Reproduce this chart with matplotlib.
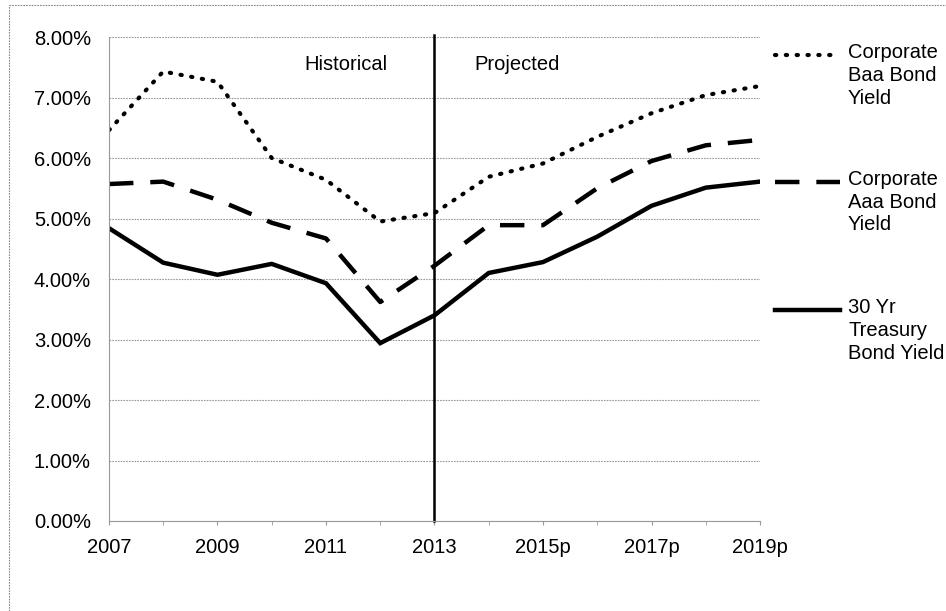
import matplotlib.pyplot as plt
from matplotlib.lines import Line2D
from matplotlib.ticker import FuncFormatter

plt.rcParams['font.family'] = ['Liberation Sans', 'DejaVu Sans']

# Yields (%) by year, 2007-2019 (2014 onward projected)
years = list(range(2007, 2020))
tick_labels = ["2007", "2009", "2011", "2013", "2015p", "2017p", "2019p"]
baa = [6.46, 7.43, 7.26, 6.00, 5.64, 4.95, 5.09, 5.69, 5.91, 6.35, 6.74, 7.04, 7.19]
aaa = [5.57, 5.61, 5.31, 4.93, 4.67, 3.62, 4.22, 4.89, 4.89, 5.50, 5.95, 6.21, 6.30]
treasury = [4.84, 4.27, 4.07, 4.25, 3.93, 2.94, 3.40, 4.10, 4.28, 4.70, 5.21, 5.51, 5.61]
split_year = 2013

fig = plt.figure(figsize=(9.46, 6.11), dpi=100)
ax = fig.add_axes([0.1152, 0.1473, 0.6882, 0.7921])

dot_style = dict(color="black", lw=3.0, linestyle=(0, (0.3, 2.3)), dash_capstyle="round")
dash_style = dict(color="black", lw=3.2, linestyle=(0, (5.5, 3.8)))
solid_style = dict(color="black", lw=3.2, solid_joinstyle="miter")

ax.plot(years, baa, **dot_style)
ax.plot(years, aaa, **dash_style)
ax.plot(years, treasury, **solid_style)

ax.axvline(split_year, color="black", lw=1.8, ymin=0, ymax=1.005, clip_on=False)

ax.set_xlim(2007, 2019)
ax.set_ylim(0, 8)
ax.set_yticks(range(0, 9))
ax.yaxis.set_major_formatter(FuncFormatter(lambda v, p: f"{v:.2f}%"))
ax.set_xticks(years[::2])
ax.set_xticklabels(tick_labels)
ax.set_xticks(years, minor=True)

ax.grid(axis="y", color="#999999", lw=0.8, linestyle=(0, (1.5, 1.0)))
for side in ["top", "right"]:
    ax.spines[side].set_visible(False)
for side in ["left", "bottom"]:
    ax.spines[side].set_color("#999999")
    ax.spines[side].set_linestyle((0, (1.5, 1.0)))
    ax.spines[side].set_linewidth(0.8)

ax.tick_params(axis="y", length=0, labelsize=14.5, pad=13)
ax.tick_params(axis="x", which="both", length=3, color="#999999", labelsize=14.5, pad=9)

ax.text(2011.37, 7.54, "Historical", ha="center", va="center", fontsize=14.5)
ax.text(2014.52, 7.54, "Projected", ha="center", va="center", fontsize=14.5)

# legend drawn by hand on the right side
def px(x, y):
    return x / 946, 1 - y / 611

legend_items = [
    (dot_style, 55, "Corporate\nBaa Bond\nYield"),
    (dash_style, 182, "Corporate\nAaa Bond\nYield"),
    (solid_style, 310, "30 Yr\nTreasury\nBond Yield"),
]
for style, y, label in legend_items:
    (x0, yy), (x1, _) = px(775, y), px(840, y)
    fig.add_artist(Line2D([x0, x1], [yy, yy], **style))
    tx, ty = px(848, y - 12)
    fig.text(tx, ty, label, ha="left", va="top", fontsize=14.5, linespacing=1.25)

# outer chart frame
fig.add_artist(Line2D([9 / 946, 1], [1 - 5 / 611] * 2, color="#888888", lw=0.8, linestyle=(0, (1.5, 1.0))))
fig.add_artist(Line2D([9 / 946] * 2, [0, 1 - 5 / 611], color="#888888", lw=0.8, linestyle=(0, (1.5, 1.0))))

fig.savefig("out.png", dpi=100)
